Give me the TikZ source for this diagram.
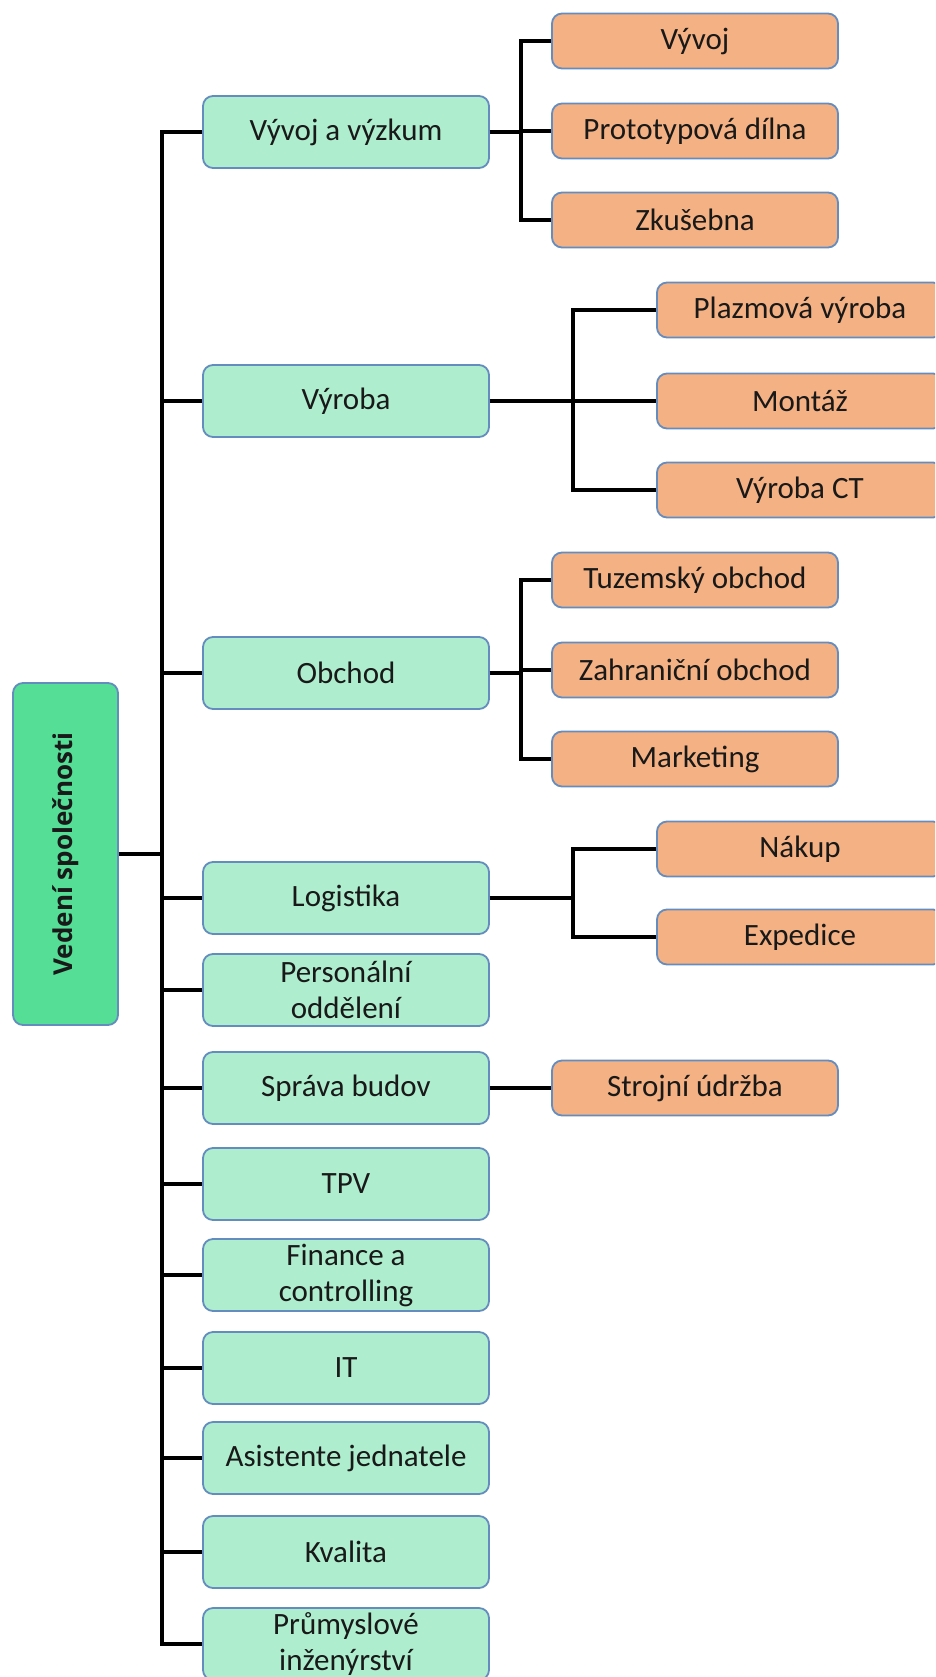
\documentclass[tikz,border=0pt]{standalone}
\usepackage{fontspec}
\setmainfont{Carlito}
\newfontfamily\rootfont{Open Sans}
\definecolor{lgreen}{RGB}{174,238,206}
\definecolor{dgreen}{RGB}{84,222,150}
\definecolor{orng}{RGB}{244,177,131}
\definecolor{bord}{RGB}{100,140,190}
\definecolor{txt}{RGB}{25,25,25}
\tikzset{
  base/.style={draw=bord, line width=1.8pt, rounded corners=10pt, inner sep=0pt, align=center,
    text=txt, font=\fontsize{31}{36}\selectfont},
  lone/.style={base, fill=lgreen, minimum width=286pt, minimum height=72pt},
  ltwo/.style={base, fill=orng, minimum width=286pt, minimum height=55pt},
  rootbox/.style={base, fill=dgreen, minimum width=105pt, minimum height=342pt},
  conn/.style={draw=black, line width=4.8pt}
}
\begin{document}
\begin{tikzpicture}[x=1pt,y=-1pt]
\useasboundingbox (0,0) rectangle (935,1677);
\clip (0,0) rectangle (935,1677);
\node[rootbox] (root) at (65.5,854) {};
\node[rotate=90, text=txt, font=\rootfont\bfseries\fontsize{26}{30}\selectfont] (roottxt) at (root.center) {Vedení společnosti};
% level 1
\node[lone] (vv) at (346,132) {Vývoj a výzkum};
\node[lone] (vy) at (346,401) {Výroba};
\node[lone] (ob) at (346,673) {Obchod};
\node[lone] (lo) at (346,898) {Logistika};
\node[lone] (po) at (346,990) {Personální\\oddělení};
\node[lone] (sb) at (346,1088) {Správa budov};
\node[lone] (tpv) at (346,1184) {TPV};
\node[lone] (fc) at (346,1275) {Finance a\\controlling};
\node[lone] (it) at (346,1368) {IT};
\node[lone] (aj) at (346,1458) {Asistente jednatele};
\node[lone] (kv) at (346,1552) {Kvalita};
\node[lone] (pi) at (346,1644) {Průmyslové\\inženýrství};
% level 2
\node[ltwo] (a1) at (695,41) {Vývoj};
\node[ltwo] (a2) at (695,131) {Prototypová dílna};
\node[ltwo] (a3) at (695,220) {Zkušebna};
\node[ltwo] (b1) at (800,310) {Plazmová výroba};
\node[ltwo] (b2) at (800,401) {Montáž};
\node[ltwo] (b3) at (800,490) {Výroba CT};
\node[ltwo] (c1) at (695,580) {Tuzemský obchod};
\node[ltwo] (c2) at (695,670) {Zahraniční obchod};
\node[ltwo] (c3) at (695,759) {Marketing};
\node[ltwo] (d1) at (800,849) {Nákup};
\node[ltwo] (d2) at (800,937) {Expedice};
\node[ltwo] (e1) at (695,1088) {Strojní údržba};
% trunk
\coordinate (trunk) at (162,854);
\draw[conn] (root.east) -- (trunk);
\draw[conn] (vv.west) -| (trunk);
\draw[conn] (pi.west) -| (trunk);
\foreach \n in {vy,ob,lo,po,sb,tpv,fc,it,aj,kv}{\draw[conn] (trunk) |- (\n.west);}
% branches
\foreach \c in {a1,a2,a3}{\draw[conn] (vv.east) -- ++(31,0) |- (\c.west);}
\foreach \c in {b1,b2,b3}{\draw[conn] (vy.east) -- ++(83,0) |- (\c.west);}
\foreach \c in {c1,c2,c3}{\draw[conn] (ob.east) -- ++(31,0) |- (\c.west);}
\foreach \c in {d1,d2}{\draw[conn] (lo.east) -- ++(83,0) |- (\c.west);}
\draw[conn] (sb.east) -- (e1.west);
\end{tikzpicture}
\end{document}
